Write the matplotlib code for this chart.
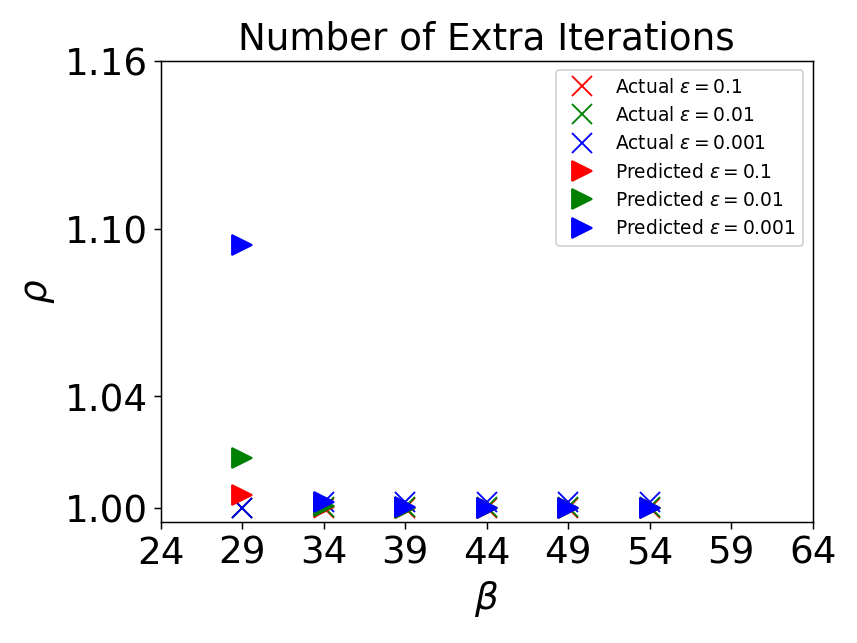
import matplotlib
matplotlib.use('Agg')
import matplotlib.pyplot as plt

# beta values and rho readings
beta = [29, 34, 39, 44, 49, 54]
actual_01 = [1.0, 1.0, 1.0, 1.0, 1.0, 1.0]
actual_001 = [1.0, 1.0005, 1.0005, 1.0005, 1.0005, 1.0005]
actual_0001 = [1.0, 1.0022, 1.0022, 1.0022, 1.0022, 1.0022]
pred_01 = [1.0048, 1.0003, 1.0, 1.0, 1.0, 1.0]
pred_001 = [1.018, 1.0008, 1.0, 1.0, 1.0, 1.0]
pred_0001 = [1.0942, 1.0023, 1.0003, 1.0002, 1.0002, 1.0002]
xticks = [24, 29, 34, 39, 44, 49, 54, 59, 64]
yticks = [1.00, 1.04, 1.10, 1.16]

fig = plt.figure(figsize=(6.4, 4.8), dpi=134)
ax = fig.add_subplot(111)
fig.subplots_adjust(left=0.1876, right=0.9476, top=0.905, bottom=0.1886)

ms = 11
ax.plot(beta, actual_01, 'x', color='red', markersize=ms, label=r'Actual $\epsilon = 0.1$')
ax.plot(beta, actual_001, 'x', color='green', markersize=ms, label=r'Actual $\epsilon = 0.01$')
ax.plot(beta, actual_0001, 'x', color='blue', markersize=ms, label=r'Actual $\epsilon = 0.001$')
ax.plot(beta, pred_01, '>', color='red', markersize=ms, label=r'Predicted $\epsilon = 0.1$')
ax.plot(beta, pred_001, '>', color='green', markersize=ms, label=r'Predicted $\epsilon = 0.01$')
ax.plot(beta, pred_0001, '>', color='blue', markersize=ms, label=r'Predicted $\epsilon = 0.001$')

ax.set_xlim(24, 64)
ax.set_ylim(0.9952, 1.16)
ax.set_xticks(xticks)
ax.set_yticks(yticks)
ax.set_yticklabels(['%.2f' % y for y in yticks])
ax.tick_params(labelsize=20)
ax.set_xlabel(r'$\beta$', fontsize=20)
ax.set_ylabel(r'$\rho$', fontsize=20)
ax.set_title('Number of Extra Iterations', fontsize=20)
ax.legend(loc='upper right', fontsize=10)

fig.savefig('out.png', dpi=134)
